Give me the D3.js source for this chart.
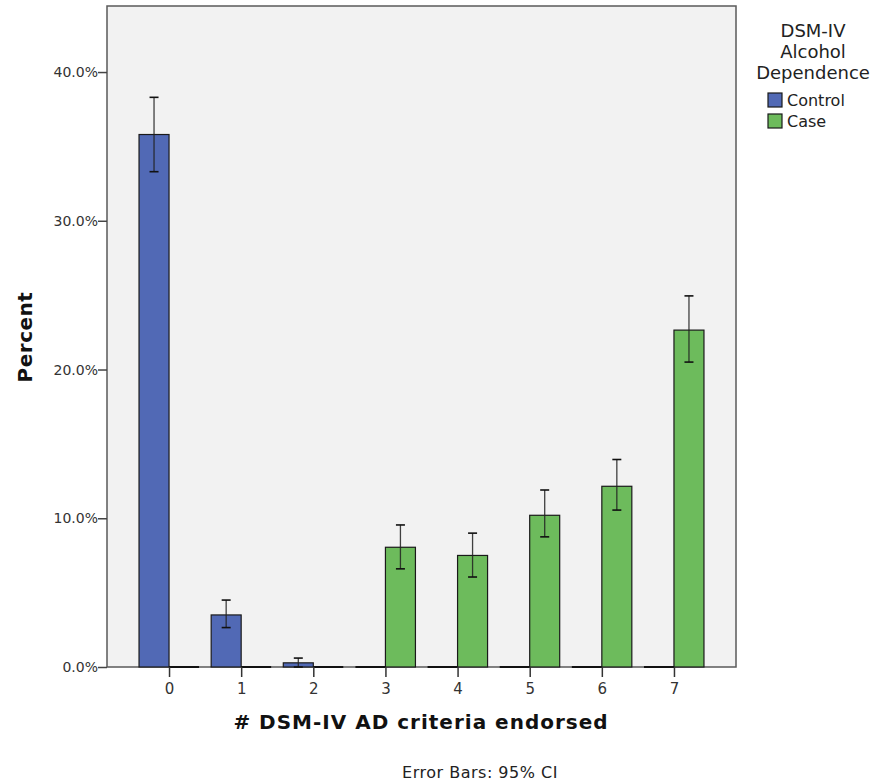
<!DOCTYPE html>
<html><head><meta charset="utf-8">
<script src="https://cdn.jsdelivr.net/npm/d3@7"></script>
<style>body{margin:0;background:#fff;} svg{display:block;}</style>
</head><body>
<svg id="c" width="873" height="784"></svg>
<script>
const categories = ["0","1","2","3","4","5","6","7"];
const groups = ["Control","Case"];
const controlValues = [35.8, 3.5, 0.28, 0, 0, 0, 0, 0];
const controlLow    = [33.3, 2.65, 0.0, 0, 0, 0, 0, 0];
const controlHigh   = [38.3, 4.5, 0.6, 0, 0, 0, 0, 0];
const caseValues = [0, 0, 0, 8.05, 7.5, 10.2, 12.15, 22.65];
const caseLow    = [0, 0, 0, 6.6, 6.05, 8.75, 10.55, 20.5];
const caseHigh   = [0, 0, 0, 9.55, 9.0, 11.9, 13.95, 24.95];
const yTicks = [0, 10, 20, 30, 40];
const colors = {Control:"#5169B5", Case:"#6DBB5C"};

const svg = d3.select("#c");
const L=107, R=736, T=6, B=667;
const x = d3.scalePoint().domain(categories).range([L,R]).padding(0.86);
const xs = d3.scaleBand().domain(groups).range([-30,30]).padding(0);
const y = d3.scaleLinear().domain([0,44.44]).range([B,T]);

svg.append("rect").attr("x",L).attr("y",T).attr("width",R-L).attr("height",B-T)
  .attr("fill","#F2F2F2").attr("stroke","#5a5a5a").attr("stroke-width",1.5);

const rows = [];
categories.forEach((c,i)=>{
  rows.push({c, g:"Control", v:controlValues[i], lo:controlLow[i], hi:controlHigh[i]});
  rows.push({c, g:"Case", v:caseValues[i], lo:caseLow[i], hi:caseHigh[i]});
});

const g = svg.append("g");
rows.filter(d=>d.v>0).forEach(d=>{
  g.append("rect").attr("x",x(d.c)+xs(d.g)).attr("y",y(d.v))
   .attr("width",xs.bandwidth()).attr("height",y(0)-y(d.v))
   .attr("fill",colors[d.g]).attr("stroke","#1a1a1a").attr("stroke-width",1.2);
});
rows.filter(d=>d.v===0).forEach(d=>{
  g.append("line").attr("x1",x(d.c)+xs(d.g)).attr("x2",x(d.c)+xs(d.g)+xs.bandwidth())
   .attr("y1",y(0)).attr("y2",y(0)).attr("stroke","#111").attr("stroke-width",2);
});
// error bars
rows.filter(d=>d.v>0).forEach(d=>{
  const cx = x(d.c)+xs(d.g)+xs.bandwidth()/2;
  g.append("line").attr("x1",cx).attr("x2",cx).attr("y1",y(d.hi)).attr("y2",y(d.lo))
   .attr("stroke","#222").attr("stroke-width",1.3).attr("opacity",0.85);
  [d.hi,d.lo].forEach(v=>{
    g.append("line").attr("x1",cx-4.5).attr("x2",cx+4.5).attr("y1",y(v)).attr("y2",y(v))
     .attr("stroke","#111").attr("stroke-width",1.6);
  });
});

// y axis
const ya = svg.append("g").attr("transform",`translate(${L},0)`)
  .call(d3.axisLeft(y).tickValues(yTicks).tickFormat(d=>d.toFixed(1)+"%").tickSize(9).tickSizeOuter(0));
ya.select(".domain").remove();
ya.selectAll(".tick line").attr("stroke","#444").attr("stroke-width",1.5);
ya.selectAll(".tick text").attr("x",-9).attr("font-family","DejaVu Sans").attr("font-size",14).attr("fill","#333");

// x axis
const xa = svg.append("g").attr("transform",`translate(0,${B})`)
  .call(d3.axisBottom(x).tickSize(10).tickSizeOuter(0));
xa.select(".domain").remove();
xa.selectAll(".tick line").attr("stroke","#333").attr("stroke-width",1.5);
xa.selectAll(".tick text").attr("y",16).attr("font-family","DejaVu Sans").attr("font-size",15).attr("fill","#333");

svg.append("text").attr("transform","translate(32,337) rotate(-90)").attr("text-anchor","middle")
  .attr("font-family","DejaVu Sans").attr("font-weight","bold").attr("font-size",20)
  .attr("letter-spacing",0.5).attr("fill","#111").text("Percent");
svg.append("text").attr("x",421).attr("y",729).attr("text-anchor","middle")
  .attr("font-family","DejaVu Sans").attr("font-weight","bold").attr("font-size",20)
  .attr("letter-spacing",1).attr("fill","#111").text("# DSM-IV AD criteria endorsed");
svg.append("text").attr("x",480).attr("y",778).attr("text-anchor","middle")
  .attr("font-family","DejaVu Sans").attr("font-size",16).attr("letter-spacing",0.5)
  .attr("fill","#222").text("Error Bars: 95% CI");

// legend
const legTitle = ["DSM-IV","Alcohol","Dependence"];
legTitle.forEach((t,i)=>{
  svg.append("text").attr("x",813).attr("y",37+i*21).attr("text-anchor","middle")
   .attr("font-family","DejaVu Sans").attr("font-size",18).attr("fill","#222").text(t);
});
groups.forEach((gname,i)=>{
  svg.append("rect").attr("x",768).attr("y",93+i*21).attr("width",14).attr("height",14)
   .attr("fill",colors[gname]).attr("stroke","#1a1a1a").attr("stroke-width",1.2);
  svg.append("text").attr("x",787).attr("y",106+i*21).attr("font-family","DejaVu Sans")
   .attr("font-size",16).attr("fill","#222").text(gname);
});
</script>
</body></html>
